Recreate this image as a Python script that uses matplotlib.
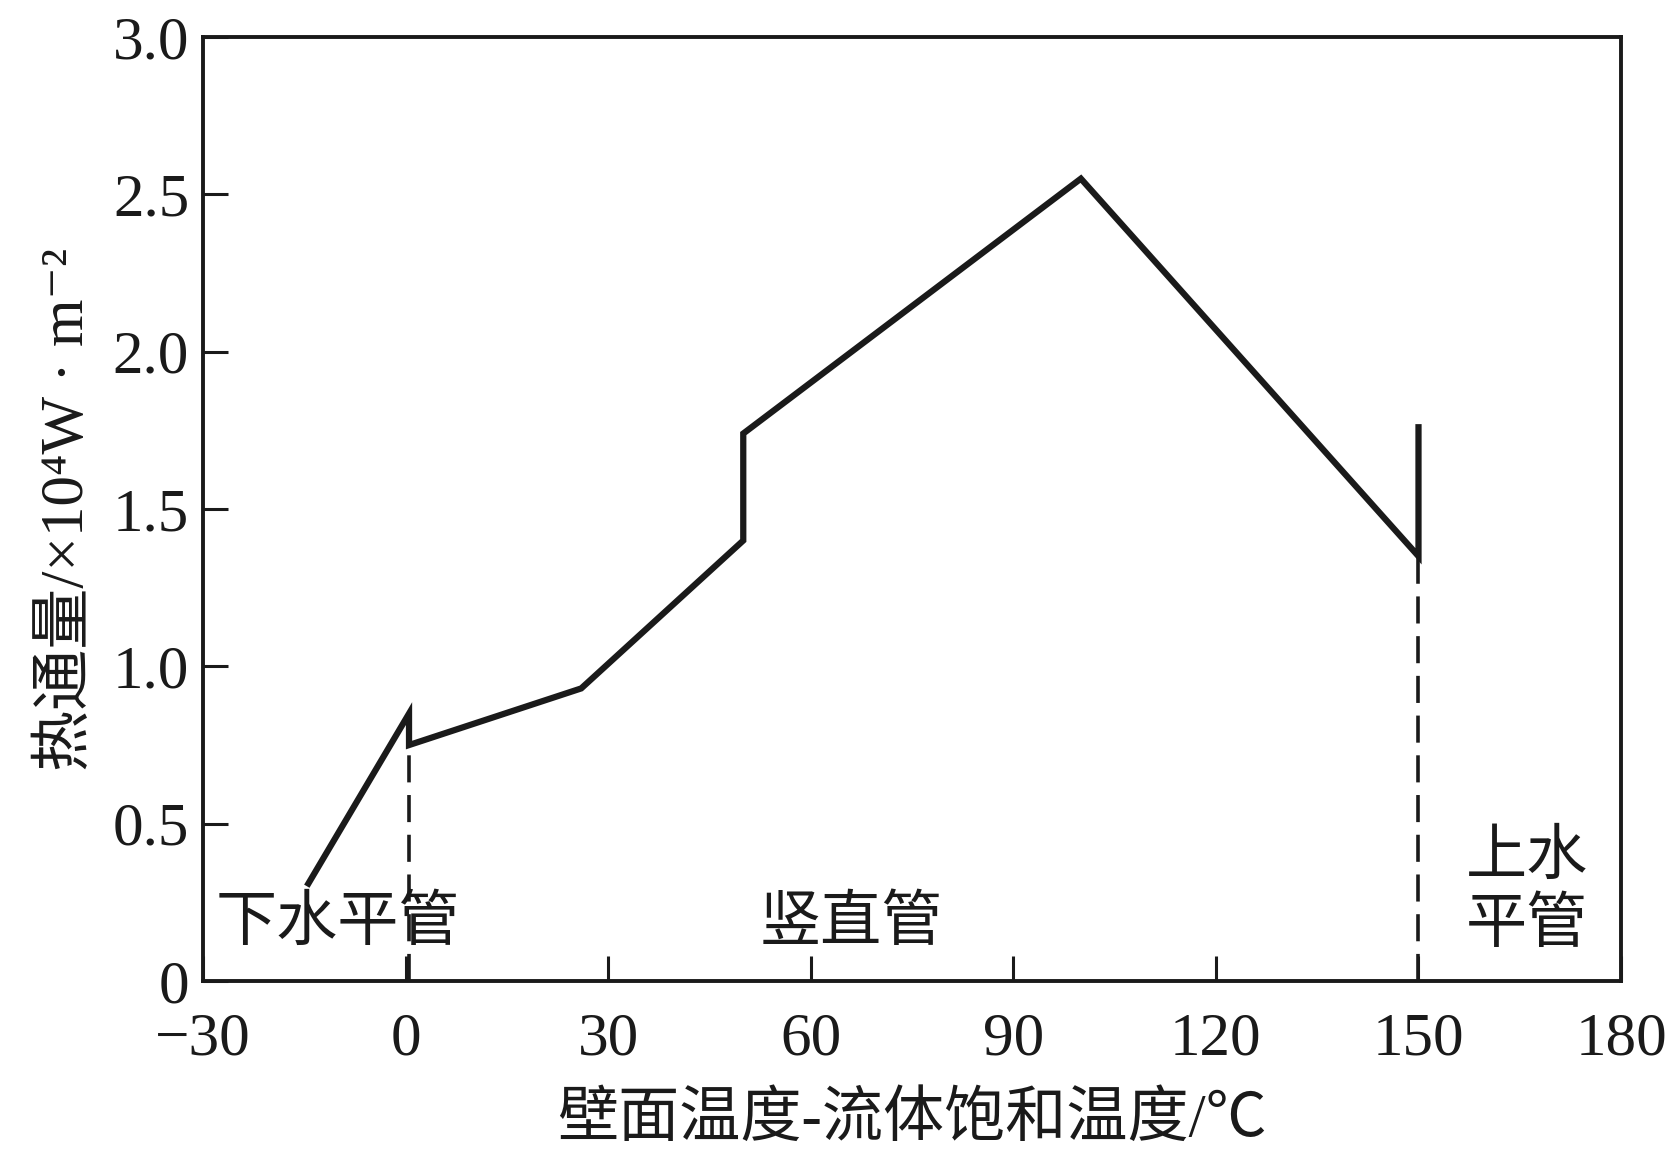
import matplotlib
matplotlib.use("Agg")
import matplotlib.pyplot as plt

# data
temp_diff = [-14.4, 0.5, 0.5, 26, 50, 50, 100, 150, 150]
heat_flux = [0.31, 0.85, 0.75, 0.93, 1.40, 1.74, 2.55, 1.35, 1.76]

boundary_x = [0.5, 150]
boundary_top = [0.75, 1.35]

xticks = [-30, 0, 30, 60, 90, 120, 150, 180]
xtick_labels = ["\u221230", "0", "30", "60", "90", "120", "150", "180"]
yticks = [0, 0.5, 1.0, 1.5, 2.0, 2.5, 3.0]
ytick_labels = ["0", "0.5", "1.0", "1.5", "2.0", "2.5", "3.0"]

regions = ["下水平管", "竖直管", "上水\n平管"]
region_x = [-10, 66, 166]
region_y = [0.18, 0.18, 0.28]

fams = ["Liberation Serif", "Noto Sans CJK SC", "DejaVu Sans"]
plt.rcParams["font.family"] = fams

fig = plt.figure(figsize=(16.7, 11.58), dpi=100)
ax = fig.add_axes([0.1216, 0.1528, 0.8491, 0.8152])

ax.plot(temp_diff, heat_flux, color="#1a1a1a", lw=4.5, solid_joinstyle="miter")
for bx, bt in zip(boundary_x, boundary_top):
    ax.plot([bx, bx], [0, bt], color="#1a1a1a", lw=2.6, dashes=(7.5, 3.5))

ax.set_xlim(-30, 180)
ax.set_ylim(0, 3.0)
ax.set_xticks(xticks)
ax.set_xticklabels(xtick_labels)
ax.set_yticks(yticks)
ax.set_yticklabels(ytick_labels)
ax.tick_params(direction="in", length=18, width=2.2, labelsize=44, color="#1a1a1a",
               labelcolor="#1a1a1a")
ax.tick_params(axis="x", pad=22)
ax.tick_params(axis="y", pad=10)
for s in ax.spines.values():
    s.set_linewidth(2.8)
    s.set_color("#1a1a1a")

for t, x, y in zip(regions, region_x, region_y):
    ax.text(x, y, t, ha="center", va="center", fontsize=44, color="#1a1a1a",
            linespacing=1.25)

ax.set_xlabel("壁面温度-流体饱和温度/℃", fontsize=44, color="#1a1a1a", labelpad=18)
ax.set_ylabel("热通量/×10⁴W · m⁻²", fontsize=44, color="#1a1a1a", labelpad=12)

fig.savefig("out.png", dpi=100)
